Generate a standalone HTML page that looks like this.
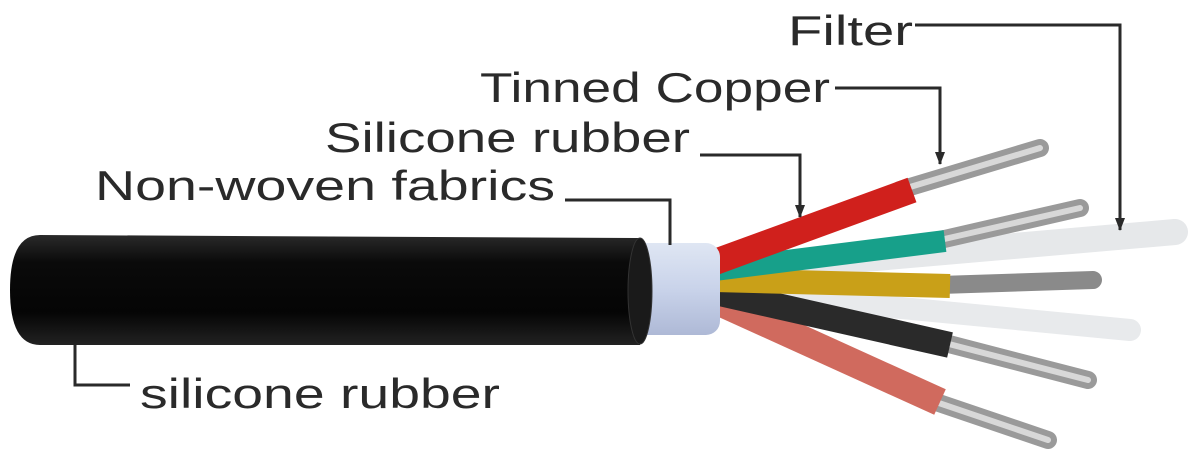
<!DOCTYPE html>
<html><head><meta charset="utf-8"><style>
html,body{margin:0;padding:0;background:#fff;}
svg{display:block;}
text{font-family:"Liberation Sans",sans-serif;font-size:42px;fill:#2a2a2a;}
</style></head><body>
<svg width="1195" height="476" viewBox="0 0 1195 476" xmlns="http://www.w3.org/2000/svg">
<defs>
<linearGradient id="blk" x1="0" y1="0" x2="0" y2="1">
<stop offset="0" stop-color="#2a2a2a"/><stop offset="0.25" stop-color="#0a0a0a"/><stop offset="0.7" stop-color="#050505"/><stop offset="1" stop-color="#222"/></linearGradient>
<linearGradient id="shd" x1="0" y1="0" x2="0" y2="1">
<stop offset="0" stop-color="#dfe6f3"/><stop offset="0.5" stop-color="#c9d3ea"/><stop offset="1" stop-color="#aeb9d6"/></linearGradient>
<marker id="ar" markerWidth="14" markerHeight="12" refX="12" refY="5" orient="auto" markerUnits="userSpaceOnUse"><path d="M0,0 L13,5 L0,10 Z" fill="#2a2a2a"/></marker>
</defs>
<path d="M715,272 L1175,232" stroke="#e6e8ea" stroke-width="26" stroke-linecap="round"/>
<path d="M715,290 L1130,330" stroke="#e8eaec" stroke-width="22" stroke-linecap="round"/>
<g stroke-linecap="round">
<path d="M900,190 L1040,148" stroke="#9a9a9a" stroke-width="18"/>
<path d="M940,240 L1080,208" stroke="#9a9a9a" stroke-width="18"/>
<path d="M940,285 L1093,280" stroke="#8a8a8a" stroke-width="18"/>
<path d="M945,343 L1088,380" stroke="#9a9a9a" stroke-width="18"/>
<path d="M930,400 L1048,440" stroke="#9a9a9a" stroke-width="18"/>
<path d="M900,190 L1040,148" stroke="#d8d8d8" stroke-width="6"/>
<path d="M940,240 L1080,208" stroke="#d8d8d8" stroke-width="6"/>
<path d="M945,343 L1088,380" stroke="#d8d8d8" stroke-width="6"/>
<path d="M930,400 L1048,440" stroke="#d8d8d8" stroke-width="6"/>
</g>
<g stroke-linecap="butt">
<path d="M715,300 L940,402" stroke="#d06a5e" stroke-width="28"/>
<path d="M715,292 L950,345" stroke="#2a2a2a" stroke-width="26"/>
<path d="M715,280 L950,286" stroke="#c9a018" stroke-width="24"/>
<path d="M715,270 L945,241" stroke="#17a08a" stroke-width="22"/>
<path d="M715,262 L912,190" stroke="#d0201c" stroke-width="26"/>
</g>
<rect x="622" y="243" width="98" height="92" rx="14" fill="url(#shd)"/>
<path d="M40,235 L640,238 Q655,290 640,345 L40,345 Q10,345 10,290 Q10,235 40,235 Z" fill="url(#blk)"/>
<ellipse cx="640" cy="291" rx="12" ry="53" fill="#1a1a1a" stroke="#333"/>
<g fill="none" stroke="#2a2a2a" stroke-width="3">
<path d="M915,25 L1120,25 L1120,230" marker-end="url(#ar)"/>
<path d="M835,88 L940,88 L940,164" marker-end="url(#ar)"/>
<path d="M700,155 L800,155 L800,217" marker-end="url(#ar)"/>
<path d="M565,200 L670,200 L670,245"/>
<path d="M75,345 L75,385 L130,385"/>
</g>
<text x="788" y="45" textLength="125" lengthAdjust="spacingAndGlyphs">Filter</text>
<text x="480" y="102" textLength="350" lengthAdjust="spacingAndGlyphs">Tinned Copper</text>
<text x="325" y="152" textLength="365" lengthAdjust="spacingAndGlyphs">Silicone rubber</text>
<text x="95" y="200" textLength="460" lengthAdjust="spacingAndGlyphs">Non-woven fabrics</text>
<text x="140" y="408" textLength="360" lengthAdjust="spacingAndGlyphs">silicone rubber</text>
</svg>
</body></html>
